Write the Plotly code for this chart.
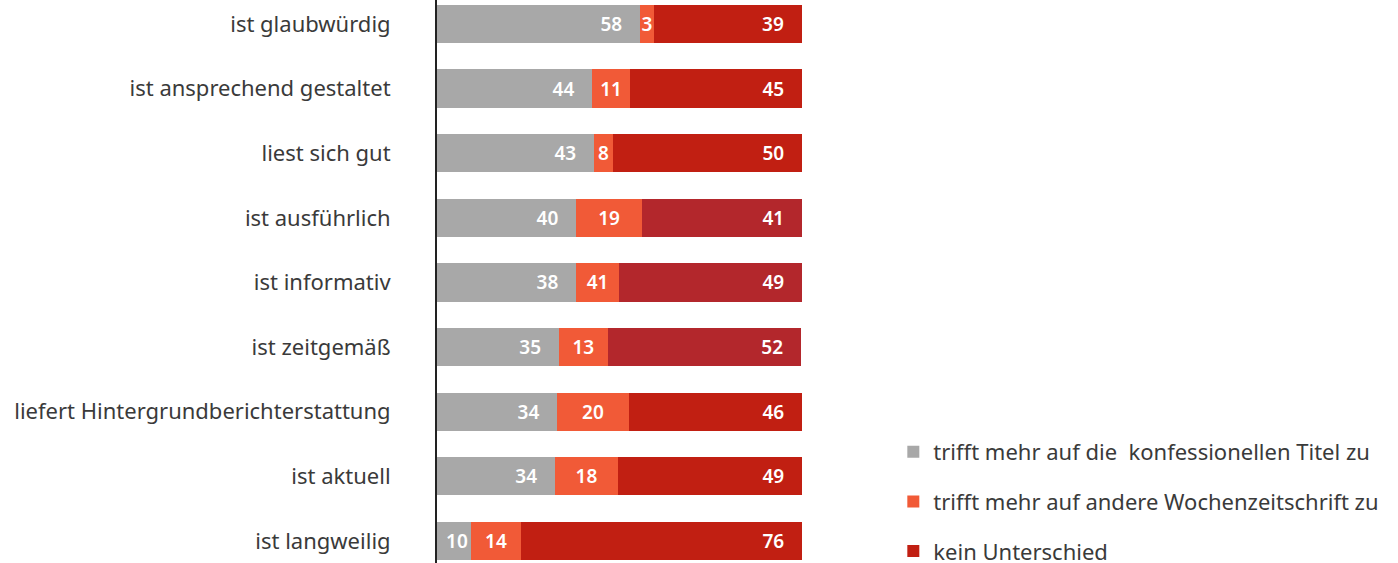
import plotly.graph_objects as go

categories = [
    "ist glaubwürdig",
    "ist ansprechend gestaltet",
    "liest sich gut",
    "ist ausführlich",
    "ist informativ",
    "ist zeitgemäß",
    "liefert Hintergrundberichterstattung",
    "ist aktuell",
    "ist langweilig",
]

series_names = [
    "trifft mehr auf die  konfessionellen Titel zu",
    "trifft mehr auf andere Wochenzeitschrift zu",
    "kein Unterschied",
]

# bar lengths as drawn (share of bar, %)
konfessionell = [55.6, 42.5, 43.0, 38.1, 38.1, 33.4, 32.9, 32.3, 9.3]
andere = [3.8, 10.4, 5.2, 18.1, 11.8, 13.4, 19.7, 17.3, 13.7]
kein_unterschied = [40.5, 47.1, 51.8, 43.8, 50.1, 52.9, 47.4, 50.4, 77.0]

# printed value labels
konfessionell_labels = ["58", "44", "43", "40", "38", "35", "34", "34", "10"]
andere_labels = ["3", "11", "8", "19", "41", "13", "20", "18", "14"]
kein_labels = ["39", "45", "50", "41", "49", "52", "46", "49", "76"]

GRAY = "#a8a8a8"
ORANGE = "#f15a37"
RED = "#c11f12"
DARK_RED = "#b3272c"
dark_rows = {"ist ausführlich", "ist informativ", "ist zeitgemäß"}
red_colors = [DARK_RED if c in dark_rows else RED for c in categories]

NB = "\u00a0"
pad = NB * 3

gray_text = [t + (pad if v > 15 else "") for t, v in zip(konfessionell_labels, konfessionell)]
red_text = [t + pad for t in kein_labels]

FONT = "Noto Sans"
textfont = dict(family=FONT, size=19, color="white", weight=600)

fig = go.Figure()
fig.add_trace(go.Bar(
    y=categories, x=konfessionell, orientation="h", name=series_names[0],
    marker=dict(color=GRAY, line=dict(width=0)),
    text=gray_text, textposition="inside", insidetextanchor="end",
    textfont=textfont, constraintext="none", legendgroup="a", hoverinfo="skip",
))
fig.add_trace(go.Bar(
    y=categories, x=andere, orientation="h", name=series_names[1],
    marker=dict(color=ORANGE, line=dict(width=0)),
    text=andere_labels, textposition="inside", insidetextanchor="middle",
    textfont=textfont, constraintext="none", legendgroup="b", hoverinfo="skip",
))
fig.add_trace(go.Bar(
    y=categories, x=kein_unterschied, orientation="h", name=series_names[2],
    marker=dict(color=red_colors, line=dict(width=0)),
    text=red_text, textposition="inside", insidetextanchor="end",
    textfont=textfont, constraintext="none", legendgroup="c", hoverinfo="skip",
))

fig.update_layout(
    width=1398, height=572,
    barmode="stack", bargap=0.41,
    margin=dict(l=437, r=596, t=0, b=9),
    paper_bgcolor="white", plot_bgcolor="white",
    font=dict(family=FONT, color="#3a3a3a"),
    showlegend=True,
    legend=dict(
        xref="container", yref="container",
        x=0.639, y=0, xanchor="left", yanchor="bottom",
        font=dict(family=FONT, size=22, color="#3a3a3a"),
        traceorder="grouped", tracegroupgap=18,
        bgcolor="rgba(0,0,0,0)",
    ),
    xaxis=dict(range=[0, 100], visible=False, fixedrange=True),
    yaxis=dict(
        type="category",
        range=[8.34, -0.37],
        showline=True, linecolor="#222222", linewidth=2,
        showgrid=False, zeroline=False,
        ticks="", ticklabelstandoff=40,
        tickfont=dict(family=FONT, size=22, color="#3a3a3a"),
        fixedrange=True,
    ),
)

fig.write_html(
    "out.html",
    config={"displayModeBar": False},
    post_script=(
        "document.body.style.margin='0';document.body.style.padding='0';"
        "document.body.style.overflow='hidden';"
        "document.documentElement.style.overflow='hidden';"
    ),
)
